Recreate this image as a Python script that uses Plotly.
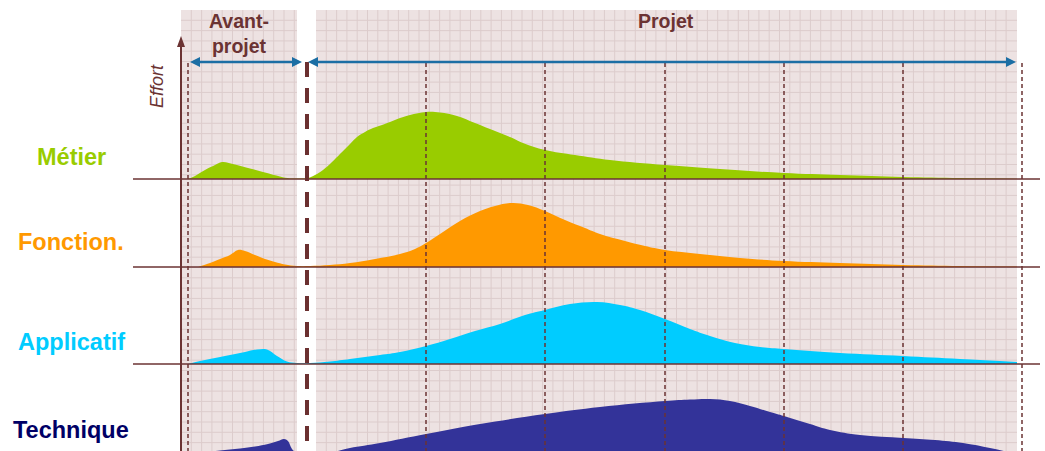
import plotly.graph_objects as go

W, H = 1045, 451

# ---------------- data (time position, effort) ----------------
metier_t = [188, 195, 205, 215, 222, 235, 250, 265, 280, 290, 300, 308, 315, 323, 332, 340, 350, 357, 365,
            373, 382, 390, 400, 410, 426, 440, 457, 475, 490, 510, 523, 545, 575, 610, 665, 720, 784, 840,
            903, 960, 1017]
metier_e = [0, 3, 9, 14, 17, 14.5, 10.5, 6.5, 2.5, 0.6, 0.5, 1, 4, 9, 17, 25, 35, 42, 47,
            51, 54, 57, 61, 64, 67, 66.5, 63, 56, 50, 42, 36, 29, 24, 19, 14, 10, 6, 4,
            2, 1, 0.3]

fonction_t = [198, 210, 220, 230, 238, 245, 255, 265, 275, 285, 297, 310, 330, 350, 375, 400, 415, 426,
              440, 460, 480, 495, 512, 528, 545, 565, 585, 600, 625, 645, 665, 700, 740, 784, 840, 903,
              960, 1017]
fonction_e = [0, 4, 8, 12, 17, 16, 12, 8, 5, 2.5, 1, 1, 2, 4, 8, 13, 18, 24,
              33, 46, 56, 61, 64, 62, 56, 47, 39, 33, 26, 21, 17, 13, 9, 6, 4, 2,
              1, 0.5]

applicatif_t = [188, 200, 215, 230, 245, 257, 267, 277, 287, 297, 310, 330, 350, 380, 400, 426, 450, 475,
                500, 525, 545, 570, 597, 620, 640, 665, 690, 710, 735, 760, 784, 840, 903, 960, 1017]
applicatif_e = [0, 3, 6, 9, 12, 14.5, 14.5, 8, 2.5, 1, 1, 2.5, 5, 9, 12, 18, 25, 33,
                40, 49, 54, 60, 62, 59, 54, 45, 35, 28, 21, 17, 15, 11, 8, 5, 2]

technique_t = [207, 220, 240, 255, 268, 278, 284, 288, 292, 296, 310, 332, 350, 380, 426, 480, 545, 600,
               665, 690, 710, 730, 750, 770, 784, 810, 830, 860, 903, 935, 963, 990, 1008]
technique_e = [0, 1.5, 3.5, 5.5, 8, 11, 13, 11, 3, 0, 0, 0, 4, 9, 18, 28, 38, 45,
               51, 52.5, 53, 51, 46, 40, 36, 28, 22, 17, 14, 12, 9, 4, 0]

domains = ["Métier", "Fonction.", "Applicatif", "Technique"]
series_t = [metier_t, fonction_t, applicatif_t, technique_t]
series_e = [metier_e, fonction_e, applicatif_e, technique_e]

phase_labels = ["Avant-<br>projet", "Projet"]
axis_label = "Effort"

# ---------------- layout / style ----------------
fill_colors = ["#99cc00", "#ff9900", "#00ccff", "#333399"]
label_colors = ["#99cc00", "#ff9900", "#00ccff", "#000066"]
base_px = [179, 267, 364, 452]          # baseline pixel row for each domain
label_px = [157, 242, 342, 430]
BROWN = "#6b3333"
BLUE = "#1c6ea4"
BG = "#ede2e2"
GRID = "#dccccc"


def yd(py):
    return H - py


fig = go.Figure()

for name, t, e, c, bp in zip(domains, series_t, series_e, fill_colors, base_px):
    b = yd(bp)
    fig.add_trace(go.Scatter(x=t, y=[b] * len(t), mode="lines", line=dict(width=0),
                             hoverinfo="skip", showlegend=False))
    fig.add_trace(go.Scatter(x=t, y=[b + v for v in e], mode="lines", name=name,
                             line=dict(width=0, shape="spline", smoothing=1.1, color=c),
                             fill="tonexty", fillcolor=c, showlegend=False))

shapes = []
# background regions with grid
regions = [(181, 297), (316, 1017)]
for x0, x1 in regions:
    shapes.append(dict(type="rect", xref="x", yref="y", x0=x0, x1=x1, y0=yd(451), y1=yd(10),
                       fillcolor=BG, line=dict(width=0), layer="below"))
    p = ""
    x = x0 + 10.3
    while x < x1 - 1:
        p += f"M{x:.1f},{yd(10)} L{x:.1f},{yd(451)} "
        x += 10.3
    y = 10 + 10.3
    while y < 451:
        p += f"M{x0},{yd(y):.1f} L{x1},{yd(y):.1f} "
        y += 10.3
    shapes.append(dict(type="path", xref="x", yref="y", path=p, line=dict(color=GRID, width=1),
                       layer="below"))

# baselines
for bp in base_px[:3]:
    shapes.append(dict(type="line", xref="x", yref="y", x0=133, x1=1040, y0=yd(bp), y1=yd(bp),
                       line=dict(color=BROWN, width=1.5), layer="above"))

# thin dashed milestone lines
for xm in [188, 426, 545, 665, 784, 903, 1022]:
    shapes.append(dict(type="line", xref="x", yref="y", x0=xm, x1=xm, y0=yd(63), y1=yd(451),
                       line=dict(color=BROWN, width=1.5, dash="4px,3px"), layer="above"))

# thick dashed separator
shapes.append(dict(type="line", xref="x", yref="y", x0=307, x1=307, y0=yd(62), y1=yd(451),
                   line=dict(color="#6b3030", width=4, dash="15px,11px"), layer="above"))

# vertical effort axis with arrow
shapes.append(dict(type="line", xref="x", yref="y", x0=181, x1=181, y0=yd(44), y1=yd(451),
                   line=dict(color=BROWN, width=2), layer="above"))
shapes.append(dict(type="path", xref="x", yref="y",
                   path=f"M181,{yd(36)} L185,{yd(47)} L177,{yd(47)} Z",
                   fillcolor=BROWN, line=dict(width=0), layer="above"))

# blue double arrows
for xa, xb in [(190, 302), (308, 1016)]:
    yy = yd(62)
    shapes.append(dict(type="line", xref="x", yref="y", x0=xa + 6, x1=xb - 6, y0=yy, y1=yy,
                       line=dict(color=BLUE, width=2.5), layer="above"))
    shapes.append(dict(type="path", xref="x", yref="y",
                       path=f"M{xa},{yy} L{xa + 10},{yy + 5} L{xa + 10},{yy - 5} Z",
                       fillcolor=BLUE, line=dict(width=0), layer="above"))
    shapes.append(dict(type="path", xref="x", yref="y",
                       path=f"M{xb},{yy} L{xb - 10},{yy + 5} L{xb - 10},{yy - 5} Z",
                       fillcolor=BLUE, line=dict(width=0), layer="above"))

annotations = []
for name, c, lp in zip(domains, label_colors, label_px):
    annotations.append(dict(x=71, y=yd(lp), xref="x", yref="y", text=f"<b>{name}</b>",
                            showarrow=False, xanchor="center", yanchor="middle",
                            font=dict(family="Liberation Sans, Arial", size=23.5, color=c)))

annotations.append(dict(x=239, y=yd(33), xref="x", yref="y", text=f"<b>{phase_labels[0]}</b>",
                        showarrow=False, xanchor="center", yanchor="middle",
                        font=dict(family="Liberation Sans, Arial", size=19.5, color=BROWN)))
annotations.append(dict(x=666, y=yd(21), xref="x", yref="y", text=f"<b>{phase_labels[1]}</b>",
                        showarrow=False, xanchor="center", yanchor="middle",
                        font=dict(family="Liberation Sans, Arial", size=19.5, color=BROWN)))
annotations.append(dict(x=157, y=yd(86), xref="x", yref="y", text=f"<i>{axis_label}</i>",
                        showarrow=False, textangle=-90, xanchor="center", yanchor="middle",
                        font=dict(family="Liberation Sans, Arial", size=18, color=BROWN)))

fig.update_layout(
    width=W, height=H, margin=dict(l=0, r=0, t=0, b=0),
    paper_bgcolor="white", plot_bgcolor="white",
    xaxis=dict(range=[0, W], visible=False, showgrid=False, zeroline=False, fixedrange=True),
    yaxis=dict(range=[0, H], visible=False, showgrid=False, zeroline=False, fixedrange=True),
    shapes=shapes, annotations=annotations, showlegend=False,
)

fig.write_html("out.html", config={"displayModeBar": False})
